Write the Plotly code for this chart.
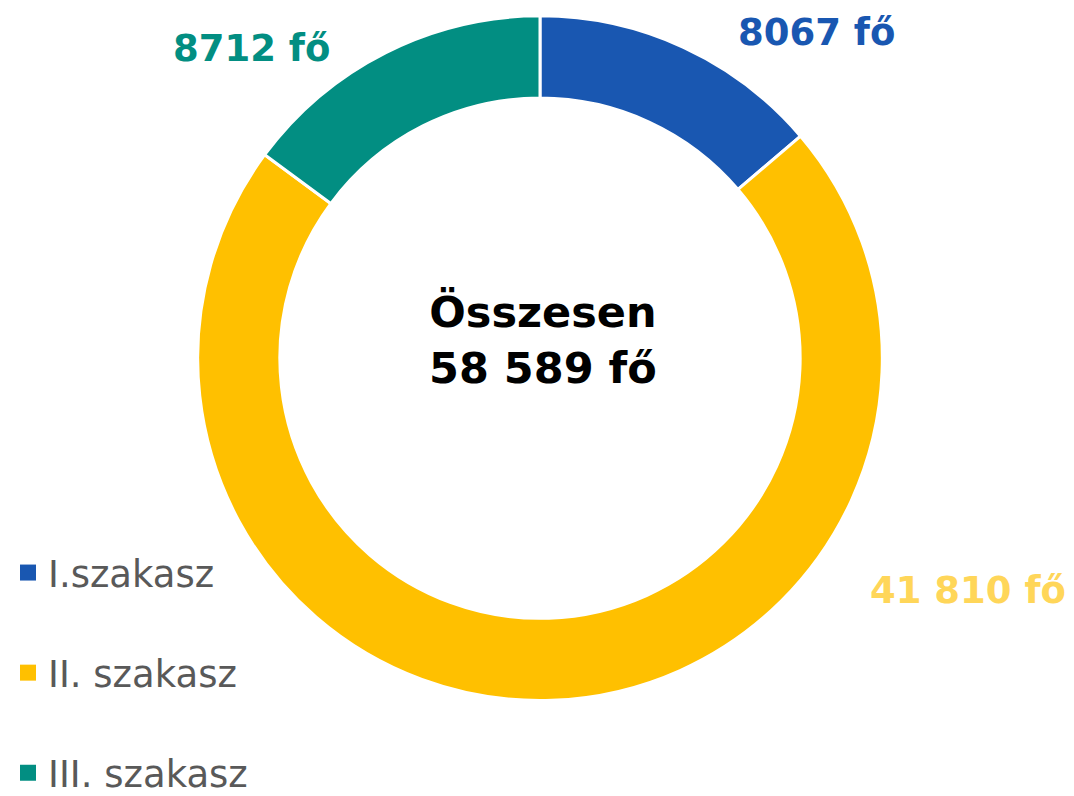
import plotly.graph_objects as go

categories = ["I.szakasz", "II. szakasz", "III. szakasz"]
values = [8067, 41810, 8712]
value_labels = ["8067 fő", "41 810 fő", "8712 fő"]
total_label = ["Összesen", "58 589 fő"]

slice_colors = ["#1957B1", "#FFC000", "#028E82"]
label_colors = ["#1957B1", "#FFD659", "#028E82"]
# (x, y, anchor)
label_pos = [(818, 25, "center"), (1060, 592, "right"), (252, 41, "center")]
label_pos[0] = (808, 25, "center")
label_pos[2] = (243, 41, "center")

W, H = 1074, 796
FONT = "DejaVu Sans"

fig = go.Figure()
fig.add_trace(go.Pie(
    labels=categories, values=values,
    hole=0.76, sort=False, direction="clockwise", rotation=0,
    marker=dict(colors=slice_colors, line=dict(color="white", width=3)),
    textinfo="none", hoverinfo="label+value",
    showlegend=False,
    domain=dict(x=[184 / W, 880 / W], y=[1 - 704 / H, 1 - 8 / H]),
))

# legend entries
for cat, col in zip(categories, slice_colors):
    fig.add_trace(go.Scatter(
        x=[None], y=[None], mode="markers", name=cat, legendgroup=cat,
        marker=dict(symbol="square", size=20, color=col),
        showlegend=True, hoverinfo="skip",
    ))

annotations = []
for txt, col, (px, py, anc) in zip(value_labels, label_colors, label_pos):
    annotations.append(dict(
        text=f"<b>{txt}</b>", x=px / W, y=1 - py / H, xref="paper", yref="paper",
        xanchor=anc, yanchor="middle", showarrow=False,
        font=dict(family=FONT, size=37, color=col),
    ))
annotations.append(dict(
    text="<b>" + "<br>".join(total_label) + "</b>", x=535 / W, y=1 - 338 / H,
    xref="paper", yref="paper", xanchor="center", yanchor="middle", showarrow=False,
    font=dict(family=FONT, size=43, color="#000000"),
))

fig.update_layout(
    width=W, height=H,
    margin=dict(l=0, r=0, t=0, b=0),
    paper_bgcolor="white", plot_bgcolor="white",
    xaxis=dict(visible=False), yaxis=dict(visible=False),
    annotations=annotations,
    legend=dict(
        x=0, y=1 - 543 / H, xanchor="left", yanchor="top",
        font=dict(family=FONT, size=37, color="#595959"),
        tracegroupgap=49, itemsizing="trace", bgcolor="rgba(0,0,0,0)",
    ),
)

fig.write_html("out.html")
